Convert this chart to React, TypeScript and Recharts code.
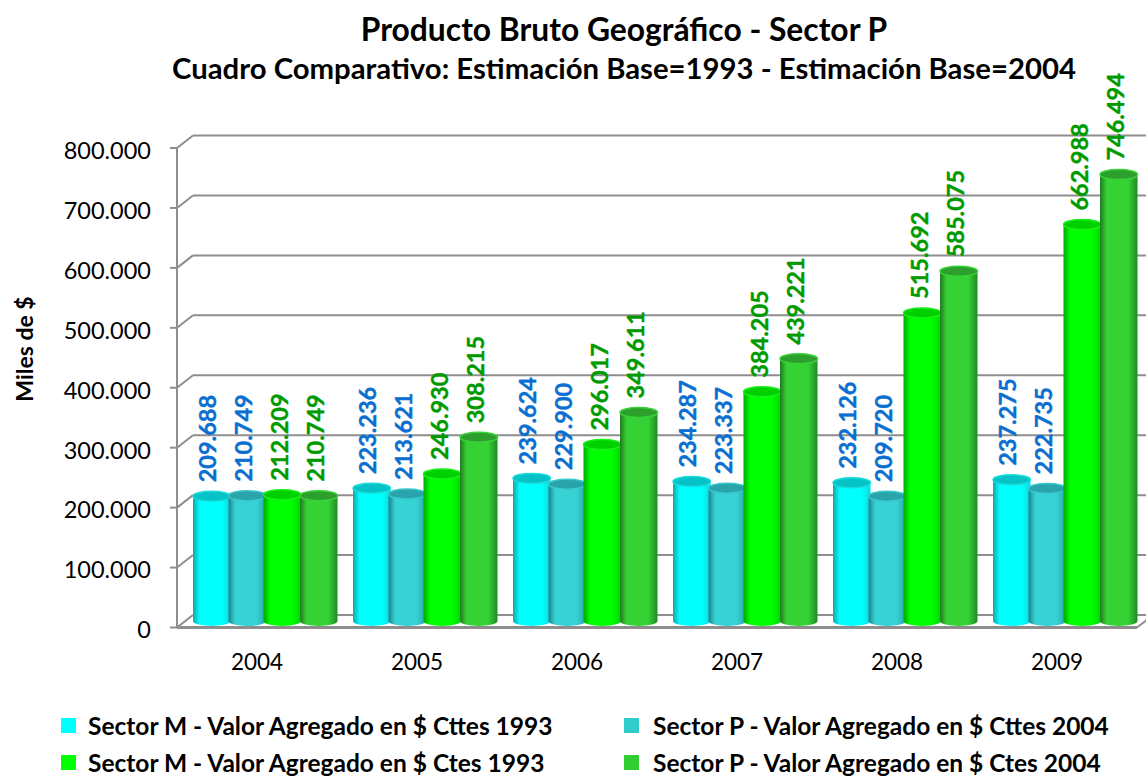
import { BarChart, Bar, XAxis, YAxis, CartesianGrid, LabelList, Legend } from 'recharts';

const years = ['2004', '2005', '2006', '2007', '2008', '2009'];
const sectorMCttes1993 = [209688, 223236, 239624, 234287, 232126, 237275];
const sectorPCttes2004 = [210749, 213621, 229900, 223337, 209720, 222735];
const sectorMCtes1993 = [212209, 246930, 296017, 384205, 515692, 662988];
const sectorPCtes2004 = [210749, 308215, 349611, 439221, 585075, 746494];
const yTicks = [0, 100000, 200000, 300000, 400000, 500000, 600000, 700000, 800000];

const data = years.map((year, i) => ({
  year,
  mCttes: sectorMCttes1993[i],
  pCttes: sectorPCttes2004[i],
  mCtes: sectorMCtes1993[i],
  pCtes: sectorPCtes2004[i],
}));

const FONT = 'Lato, Carlito, sans-serif';
const GRID = '#8e8e8e';
const DX = 16;
const DY = 12.5;

const formatMiles = (v: number) => String(v).replace(/\B(?=(\d{3})+$)/g, '.');

const series = [
  { key: 'mCttes', name: 'Sector M - Valor Agregado en $ Cttes 1993', id: 'cyl1', nudge: 8, swatch: '#00ffff', edge: '#12a6aa', far: '#05dfe2', mid: '#00ffff', top: '#04c2c6', rim: '#19dcdc', label: '#0a6fd0' },
  { key: 'pCttes', name: 'Sector P - Valor Agregado en $ Cttes 2004', id: 'cyl2', nudge: 7.5, swatch: '#33cccc', edge: '#23808a', far: '#2ba6ac', mid: '#36d2d4', top: '#2aa3ab', rim: '#37c9cc', label: '#0a6fd0' },
  { key: 'mCtes', name: 'Sector M - Valor Agregado en $ Ctes 1993', id: 'cyl3', nudge: 6.5, swatch: '#00ff00', edge: '#00a800', far: '#00d800', mid: '#00ff00', top: '#00cf00', rim: '#19f019', label: '#009a00' },
  { key: 'pCtes', name: 'Sector P - Valor Agregado en $ Ctes 2004', id: 'cyl4', nudge: 7, swatch: '#32cd32', edge: '#207a20', far: '#228a22', mid: '#34d234', top: '#2c9f2c', rim: '#3ad23a', label: '#009a00' },
];

const makeCylinder = (s: (typeof series)[number]) => (props: any) => {
  const { x, y, width, height } = props;
  const left = x + s.nudge;
  const w = width + 1.5;
  const rx = w / 2;
  const ry = 5;
  const base = y + height - 6.5;
  const top = y - 5.5;
  return (
    <g>
      <path
        d={`M${left},${top} L${left},${base} A${rx},${ry} 0 0 0 ${left + w},${base} L${left + w},${top} Z`}
        fill={`url(#${s.id})`}
      />
      <ellipse cx={left + rx} cy={top} rx={rx} ry={ry} fill={s.top} stroke={s.rim} strokeWidth={1.5} />
    </g>
  );
};

const makeValueLabel = (s: (typeof series)[number]) => (props: any) => {
  const { x, y, width, value } = props;
  const cx = x + 8 + width / 2 - 3.5;
  const cy = y - 6.5 - 13;
  return (
    <text
      x={cx}
      y={cy}
      transform={`rotate(-90 ${cx} ${cy})`}
      textAnchor="start"
      dominantBaseline="central"
      fill={s.label}
      stroke={s.label}
      strokeWidth={0.4}
      fontFamily={FONT}
      fontWeight={700}
      fontSize={23.5}
    >
      {formatMiles(value)}
    </text>
  );
};

// pared trasera + diagonal izquierda, una por cada tick
const WallLine = (props: any) => {
  const { x1, y1, x2, index } = props;
  return (
    <g key={index} stroke={GRID} strokeWidth={2} fill="none">
      <line x1={x1 - 7} y1={y1} x2={x1} y2={y1} />
      <line x1={x1} y1={y1} x2={x1 + DX} y2={y1 - DY} />
      <line x1={x1 + DX} y1={y1 - DY} x2={x2 + DX} y2={y1 - DY} />
      {y1 > 600 && <line x1={x1} y1={y1} x2={x2} y2={y1} strokeWidth={3} />}
      {y1 > 600 && <line x1={x2} y1={y1} x2={x2 + DX} y2={y1 - DY} />}
    </g>
  );
};

const LegendRows = () => (
  <div style={{ position: 'relative', width: 1146, height: 76, fontFamily: FONT, fontWeight: 700, fontSize: 24.5, color: '#000' }}>
    {series.map((s, i) => {
      const col = i % 2;
      const row = i < 2 ? 0 : 1;
      return (
        <div key={s.key} style={{ position: 'absolute', left: col ? 624 : 61, top: row ? 55 : 18, height: 16, lineHeight: '16px', whiteSpace: 'nowrap' }}>
          <span style={{ position: 'absolute', left: 0, top: 0, width: 15, height: 15, background: s.swatch }} />
          <span style={{ position: 'absolute', left: col ? 29 : 27, top: 0 }}>{s.name}</span>
        </div>
      );
    })}
  </div>
);

export default function App() {
  return (
    <div style={{ position: 'absolute', left: 0, top: 0, width: 1146, height: 776, overflow: 'hidden', background: '#fff' }}>
      <BarChart
        width={1146}
        height={776}
        data={data}
        margin={{ top: 148, right: 9, bottom: 0, left: 0 }}
        barCategoryGap="5%"
        barGap={0}
      >
        <defs>
          {series.map((s) => (
            <linearGradient key={s.id} id={s.id} x1="0" y1="0" x2="1" y2="0">
              <stop offset="0%" stopColor={s.edge} />
              <stop offset="18%" stopColor={s.mid} />
              <stop offset="75%" stopColor={s.mid} />
              <stop offset="100%" stopColor={s.far} />
            </linearGradient>
          ))}
        </defs>
        <text x={624} y={41} textAnchor="middle" fontFamily={FONT} fontWeight={700} fontSize={31.8} fill="#000">
          Producto Bruto Geográfico - Sector P
        </text>
        <text x={624} y={79} textAnchor="middle" fontFamily={FONT} fontWeight={700} fontSize={29.3} fill="#000">
          Cuadro Comparativo: Estimación Base=1993 - Estimación Base=2004
        </text>
        <text
          x={24}
          y={349}
          transform="rotate(-90 24 349)"
          textAnchor="middle"
          dominantBaseline="central"
          fontFamily={FONT}
          fontWeight={700}
          fontSize={23}
          fill="#000"
        >
          Miles de $
        </text>
        <CartesianGrid vertical={false} horizontal={WallLine} />
        <XAxis
          dataKey="year"
          axisLine={false}
          tickLine={false}
          interval={0}
          height={72.5}
          tick={{ fontFamily: FONT, fontSize: 22.5, fill: '#000' }}
          tickMargin={21}
        />
        <YAxis
          domain={[0, 800000]}
          ticks={yTicks}
          tickFormatter={formatMiles}
          axisLine={{ stroke: GRID, strokeWidth: 2 }}
          tickLine={false}
          tick={{ fontFamily: FONT, fontSize: 23.5, fill: '#000', dy: 2.5 }}
          tickMargin={20}
          width={177}
        />
        {series.map((s) => (
          <Bar key={s.key} dataKey={s.key} name={s.name} shape={makeCylinder(s)} isAnimationActive={false}>
            <LabelList dataKey={s.key} content={makeValueLabel(s)} />
          </Bar>
        ))}
        <Legend content={LegendRows} verticalAlign="bottom" wrapperStyle={{ left: 0, bottom: 0, width: 1146 }} />
      </BarChart>
    </div>
  );
}
